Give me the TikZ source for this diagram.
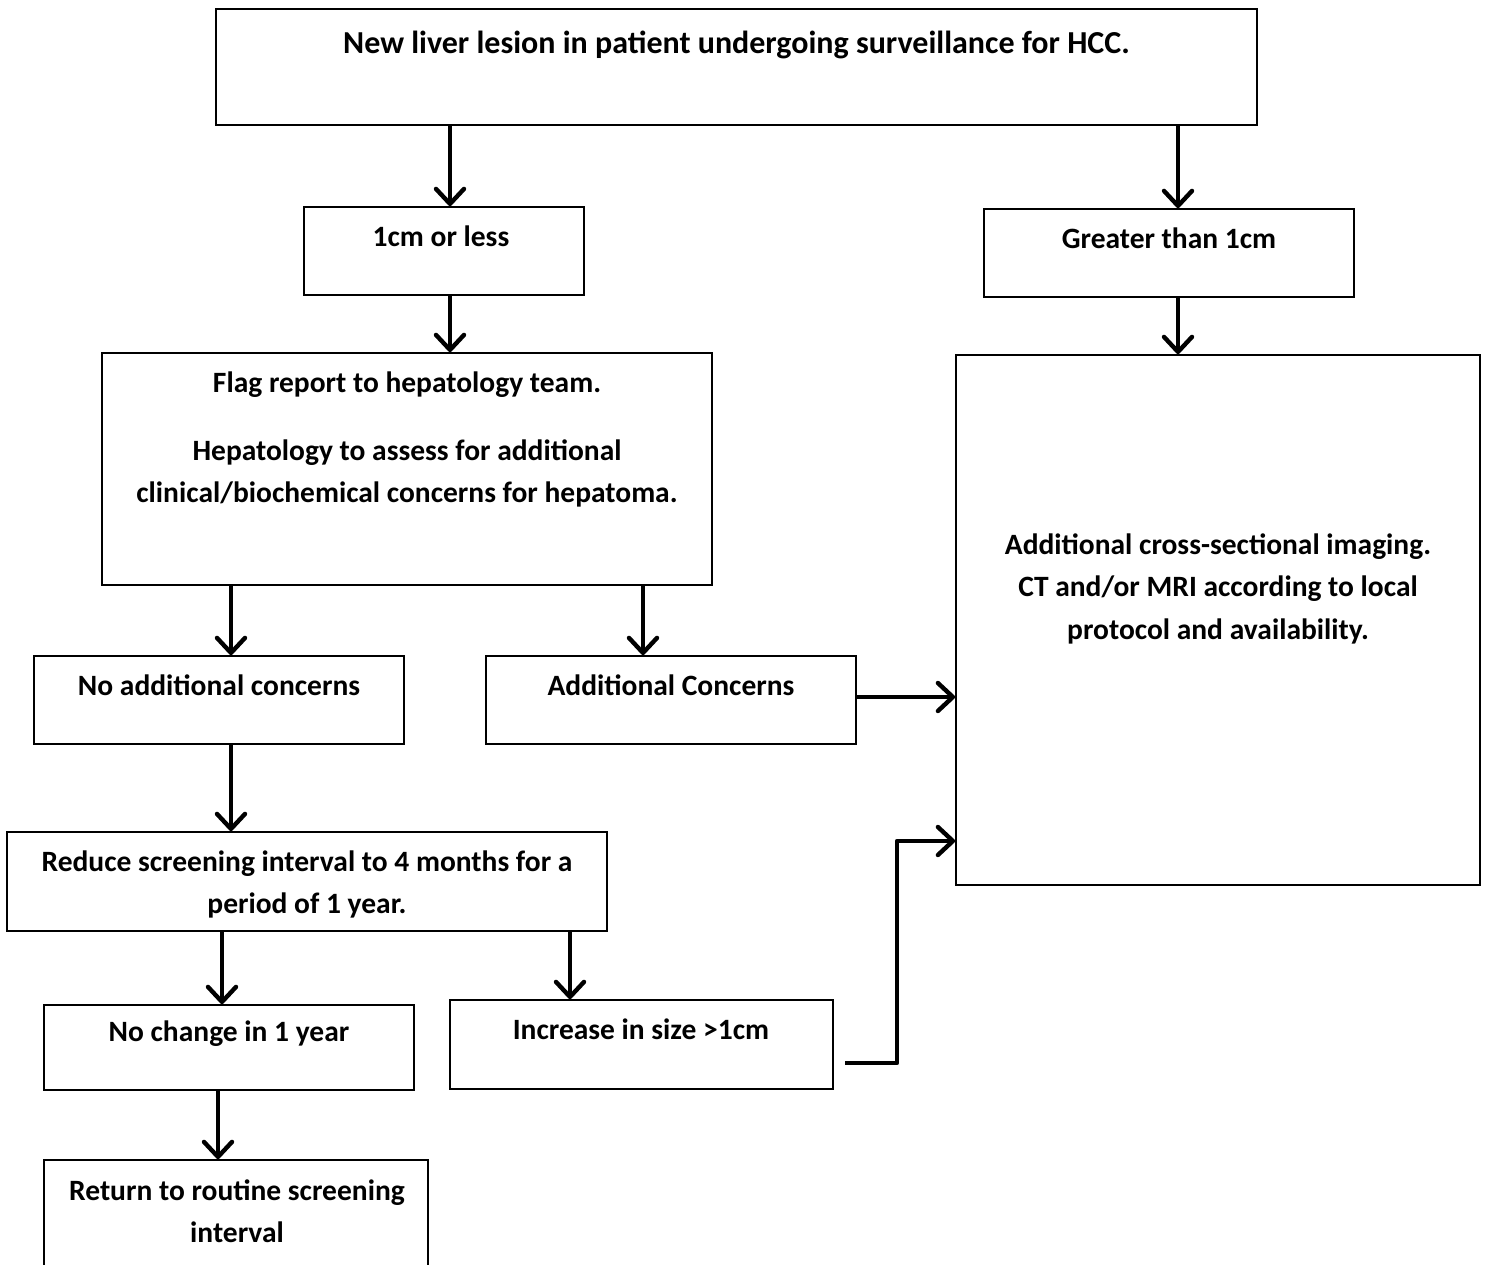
\documentclass[tikz,border=0pt]{standalone}
\usepackage{fontspec}
\setmainfont{Carlito}
\usetikzlibrary{arrows.meta,fit,calc}
\begin{document}
\begin{tikzpicture}[x=1pt,y=-1pt,
  box/.style={draw, line width=1.8pt, inner sep=0pt},
  txt/.style={font=\fontsize{29.5}{42.5}\selectfont\bfseries, align=center, anchor=north, inner sep=0pt, yshift=29.75pt},
  arr/.style={line width=4.4pt, -{Straight Barb[length=15pt,width=28pt,round]}}]
\clip (0,0) rectangle (1488,1265);
% boxes
\node[box, fit={(216,9) (1257,125)}] (top) {};
\node[box, fit={(304,207) (584,295)}] (c1) {};
\node[box, fit={(984,209) (1354,297)}] (g1) {};
\node[box, fit={(102,353) (712,585)}] (flag) {};
\node[box, fit={(956,355) (1480,885)}] (big) {};
\node[box, fit={(34,656) (404,744)}] (noc) {};
\node[box, fit={(486,656) (856,744)}] (adc) {};
\node[box, fit={(7,832) (607,931)}] (red) {};
\node[box, fit={(44,1005) (414,1090)}] (nch) {};
\node[box, fit={(450,1000) (833,1089)}] (inc) {};
\node[box, fit={(44,1160) (428,1290)}] (ret) {};
% texts
\node[txt, font=\fontsize{32}{42.5}\selectfont\bfseries] (ttop) at (736.5,53) {\strut New liver lesion in patient undergoing surveillance for HCC.};
\node[txt] (tc1) at (441,246) {\strut 1cm or less};
\node[txt] (tg1) at (1169,248) {\strut Greater than 1cm};
\node[txt] (tflag1) at (407,392) {\strut Flag report to hepatology team.};
\node[txt] (tflag2) at (407,460) {\strut Hepatology to assess for additional\\clinical/biochemical concerns for hepatoma.};
\node[txt] (tbig) at (1218,554) {\strut Additional cross-sectional imaging.\\CT and/or MRI according to local\\protocol and availability.};
\node[txt] (tnoc) at (219,695) {\strut No additional concerns};
\node[txt] (tadc) at (671,695) {\strut Additional Concerns};
\node[txt] (tred) at (307,871) {\strut Reduce screening interval to 4 months for a\\period of 1 year.};
\node[txt] (tnch) at (229,1041) {\strut No change in 1 year};
\node[txt] (tinc) at (641,1039) {\strut Increase in size >1cm};
\node[txt] (tret) at (237,1200) {\strut Return to routine screening\\interval};
% connectors
\draw[arr] (top.south -| 450,0) -- (c1.north -| 450,0);
\draw[arr] (top.south -| 1178,0) -- (g1.north -| 1178,0);
\draw[arr] (c1.south -| 450,0) -- (flag.north -| 450,0);
\draw[arr] (g1.south -| 1178,0) -- (big.north -| 1178,0);
\draw[arr] (flag.south -| 231,0) -- (noc.north -| 231,0);
\draw[arr] (flag.south -| 643,0) -- (adc.north -| 643,0);
\draw[arr] (adc.east |- 0,697) -- (big.west |- 0,697);
\draw[arr] (noc.south -| 231,0) -- (red.north -| 231,0);
\draw[arr] (red.south -| 222,0) -- (nch.north -| 222,0);
\draw[arr] (red.south -| 570,0) -- (inc.north -| 570,0);
\draw[arr] (nch.south -| 218,0) -- (ret.north -| 218,0);
\coordinate (elb) at (845,1063);
\draw[arr, line join=round] (elb) -- (897,1063) -- (897,841) -- (big.west |- 0,841);
\end{tikzpicture}
\end{document}
